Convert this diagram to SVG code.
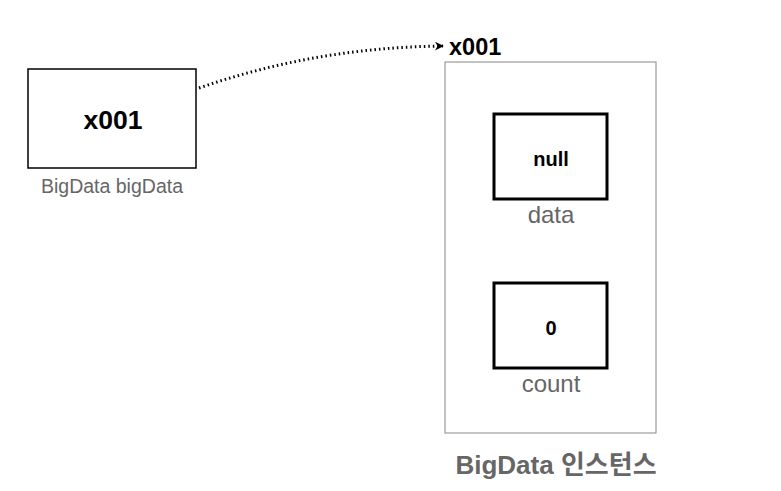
<svg xmlns="http://www.w3.org/2000/svg" width="781" height="491" viewBox="0 0 781 491">
<style>
.lbl{font-family:"Liberation Sans","Noto Sans CJK KR",sans-serif;}
.b{font-weight:bold;fill:#000;}
.g{fill:#666;}
.box{fill:#fff;stroke:#000;}
</style>
<defs>
<marker id="ah" viewBox="0 0 10 10" refX="9" refY="5" markerWidth="9" markerHeight="9" markerUnits="userSpaceOnUse" orient="auto">
<path d="M0,0 L10,5 L0,10 L3,5 Z" fill="#000"/>
</marker>
</defs>
<rect width="781" height="491" fill="#fff"/>
<g id="instance">
<rect x="445" y="62" width="211" height="371" fill="#fff" stroke="#888" stroke-width="1"/>
<text class="lbl b" x="449" y="55" font-size="23.5">x001</text>
<text class="lbl" x="556" y="474" font-size="26" font-weight="bold" fill="#666" text-anchor="middle">BigData 인스턴스</text>
</g>
<g id="ref">
<rect class="box" x="28" y="69" width="168" height="99" stroke-width="1.5"/>
<text class="lbl b" x="113" y="129" font-size="26.5" text-anchor="middle">x001</text>
<text class="lbl g" x="112" y="193" font-size="19.5" text-anchor="middle">BigData bigData</text>
</g>
<g id="data">
<rect class="box" x="494" y="114" width="113" height="85" stroke-width="3"/>
<text class="lbl b" x="551" y="166" font-size="20" text-anchor="middle">null</text>
<text class="lbl g" x="551" y="223" font-size="24" text-anchor="middle">data</text>
</g>
<g id="count">
<rect class="box" x="494" y="283" width="113" height="85" stroke-width="3"/>
<text class="lbl b" x="551" y="335" font-size="20" text-anchor="middle">0</text>
<text class="lbl g" x="551" y="392" font-size="24" text-anchor="middle">count</text>
</g>
<g id="connectors">
<path d="M199,88 C280,60 360,47 443,46" fill="none" stroke="#000" stroke-width="3" stroke-dasharray="1.5 3" marker-end="url(#ah)"/>
</g>
</svg>
